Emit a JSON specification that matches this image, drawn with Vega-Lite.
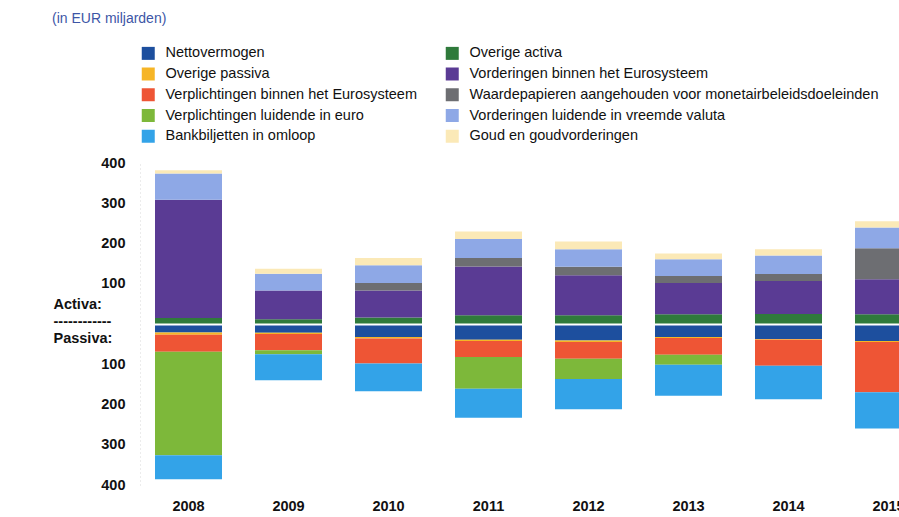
{
  "$schema": "https://vega.github.io/schema/vega-lite/v6.json",
  "width": 759,
  "height": 322,
  "autosize": {"type": "none"},
  "padding": {"left": 140, "top": 163, "right": 0, "bottom": 32},
  "background": "white",
  "title": {
    "text": "(in EUR miljarden)",
    "anchor": "start",
    "frame": "group",
    "color": "#3d56a6",
    "font": "Liberation Sans",
    "fontSize": 14,
    "fontWeight": "normal",
    "dx": -88,
    "offset": 20
  },
  "config": {"view": {"stroke": null}},
  "data": {
    "values": [
      {"jaar": "2008", "reeks": "Overige activa", "waarde": 15},
      {"jaar": "2008", "reeks": "Vorderingen binnen het Eurosysteem", "waarde": 294},
      {"jaar": "2008", "reeks": "Waardepapieren aangehouden voor monetairbeleidsdoeleinden", "waarde": 0},
      {"jaar": "2008", "reeks": "Vorderingen luidende in vreemde valuta", "waarde": 65},
      {"jaar": "2008", "reeks": "Goud en goudvorderingen", "waarde": 8},
      {"jaar": "2008", "reeks": "Nettovermogen", "waarde": -21},
      {"jaar": "2008", "reeks": "Overige passiva", "waarde": -6},
      {"jaar": "2008", "reeks": "Verplichtingen binnen het Eurosysteem", "waarde": -42},
      {"jaar": "2008", "reeks": "Verplichtingen luidende in euro", "waarde": -257},
      {"jaar": "2008", "reeks": "Bankbiljetten in omloop", "waarde": -60},

      {"jaar": "2009", "reeks": "Overige activa", "waarde": 12},
      {"jaar": "2009", "reeks": "Vorderingen binnen het Eurosysteem", "waarde": 71},
      {"jaar": "2009", "reeks": "Waardepapieren aangehouden voor monetairbeleidsdoeleinden", "waarde": 0},
      {"jaar": "2009", "reeks": "Vorderingen luidende in vreemde valuta", "waarde": 42},
      {"jaar": "2009", "reeks": "Goud en goudvorderingen", "waarde": 12},
      {"jaar": "2009", "reeks": "Nettovermogen", "waarde": -22},
      {"jaar": "2009", "reeks": "Overige passiva", "waarde": -3},
      {"jaar": "2009", "reeks": "Verplichtingen binnen het Eurosysteem", "waarde": -40},
      {"jaar": "2009", "reeks": "Verplichtingen luidende in euro", "waarde": -10},
      {"jaar": "2009", "reeks": "Bankbiljetten in omloop", "waarde": -65},

      {"jaar": "2010", "reeks": "Overige activa", "waarde": 16},
      {"jaar": "2010", "reeks": "Vorderingen binnen het Eurosysteem", "waarde": 67},
      {"jaar": "2010", "reeks": "Waardepapieren aangehouden voor monetairbeleidsdoeleinden", "waarde": 19},
      {"jaar": "2010", "reeks": "Vorderingen luidende in vreemde valuta", "waarde": 44},
      {"jaar": "2010", "reeks": "Goud en goudvorderingen", "waarde": 18},
      {"jaar": "2010", "reeks": "Nettovermogen", "waarde": -32},
      {"jaar": "2010", "reeks": "Overige passiva", "waarde": -4},
      {"jaar": "2010", "reeks": "Verplichtingen binnen het Eurosysteem", "waarde": -62},
      {"jaar": "2010", "reeks": "Verplichtingen luidende in euro", "waarde": 0},
      {"jaar": "2010", "reeks": "Bankbiljetten in omloop", "waarde": -69},

      {"jaar": "2011", "reeks": "Overige activa", "waarde": 22},
      {"jaar": "2011", "reeks": "Vorderingen binnen het Eurosysteem", "waarde": 121},
      {"jaar": "2011", "reeks": "Waardepapieren aangehouden voor monetairbeleidsdoeleinden", "waarde": 21},
      {"jaar": "2011", "reeks": "Vorderingen luidende in vreemde valuta", "waarde": 47},
      {"jaar": "2011", "reeks": "Goud en goudvorderingen", "waarde": 19},
      {"jaar": "2011", "reeks": "Nettovermogen", "waarde": -39},
      {"jaar": "2011", "reeks": "Overige passiva", "waarde": -3},
      {"jaar": "2011", "reeks": "Verplichtingen binnen het Eurosysteem", "waarde": -40},
      {"jaar": "2011", "reeks": "Verplichtingen luidende in euro", "waarde": -79},
      {"jaar": "2011", "reeks": "Bankbiljetten in omloop", "waarde": -72},

      {"jaar": "2012", "reeks": "Overige activa", "waarde": 22},
      {"jaar": "2012", "reeks": "Vorderingen binnen het Eurosysteem", "waarde": 99},
      {"jaar": "2012", "reeks": "Waardepapieren aangehouden voor monetairbeleidsdoeleinden", "waarde": 21},
      {"jaar": "2012", "reeks": "Vorderingen luidende in vreemde valuta", "waarde": 44},
      {"jaar": "2012", "reeks": "Goud en goudvorderingen", "waarde": 19},
      {"jaar": "2012", "reeks": "Nettovermogen", "waarde": -41},
      {"jaar": "2012", "reeks": "Overige passiva", "waarde": -3.5},
      {"jaar": "2012", "reeks": "Verplichtingen binnen het Eurosysteem", "waarde": -42},
      {"jaar": "2012", "reeks": "Verplichtingen luidende in euro", "waarde": -50},
      {"jaar": "2012", "reeks": "Bankbiljetten in omloop", "waarde": -75},

      {"jaar": "2013", "reeks": "Overige activa", "waarde": 24},
      {"jaar": "2013", "reeks": "Vorderingen binnen het Eurosysteem", "waarde": 78},
      {"jaar": "2013", "reeks": "Waardepapieren aangehouden voor monetairbeleidsdoeleinden", "waarde": 17},
      {"jaar": "2013", "reeks": "Vorderingen luidende in vreemde valuta", "waarde": 42},
      {"jaar": "2013", "reeks": "Goud en goudvorderingen", "waarde": 14},
      {"jaar": "2013", "reeks": "Nettovermogen", "waarde": -32},
      {"jaar": "2013", "reeks": "Overige passiva", "waarde": -2.5},
      {"jaar": "2013", "reeks": "Verplichtingen binnen het Eurosysteem", "waarde": -42},
      {"jaar": "2013", "reeks": "Verplichtingen luidende in euro", "waarde": -25},
      {"jaar": "2013", "reeks": "Bankbiljetten in omloop", "waarde": -77},

      {"jaar": "2014", "reeks": "Overige activa", "waarde": 25},
      {"jaar": "2014", "reeks": "Vorderingen binnen het Eurosysteem", "waarde": 82},
      {"jaar": "2014", "reeks": "Waardepapieren aangehouden voor monetairbeleidsdoeleinden", "waarde": 17},
      {"jaar": "2014", "reeks": "Vorderingen luidende in vreemde valuta", "waarde": 46},
      {"jaar": "2014", "reeks": "Goud en goudvorderingen", "waarde": 16},
      {"jaar": "2014", "reeks": "Nettovermogen", "waarde": -37},
      {"jaar": "2014", "reeks": "Overige passiva", "waarde": -2},
      {"jaar": "2014", "reeks": "Verplichtingen binnen het Eurosysteem", "waarde": -65},
      {"jaar": "2014", "reeks": "Verplichtingen luidende in euro", "waarde": 0},
      {"jaar": "2014", "reeks": "Bankbiljetten in omloop", "waarde": -83},

      {"jaar": "2015", "reeks": "Overige activa", "waarde": 24},
      {"jaar": "2015", "reeks": "Vorderingen binnen het Eurosysteem", "waarde": 87},
      {"jaar": "2015", "reeks": "Waardepapieren aangehouden voor monetairbeleidsdoeleinden", "waarde": 77},
      {"jaar": "2015", "reeks": "Vorderingen luidende in vreemde valuta", "waarde": 52},
      {"jaar": "2015", "reeks": "Goud en goudvorderingen", "waarde": 15},
      {"jaar": "2015", "reeks": "Nettovermogen", "waarde": -42},
      {"jaar": "2015", "reeks": "Overige passiva", "waarde": -2.5},
      {"jaar": "2015", "reeks": "Verplichtingen binnen het Eurosysteem", "waarde": -125},
      {"jaar": "2015", "reeks": "Verplichtingen luidende in euro", "waarde": 0},
      {"jaar": "2015", "reeks": "Bankbiljetten in omloop", "waarde": -90}
    ]
  },
  "transform": [
    {
      "calculate": "indexof(['Nettovermogen','Overige activa','Overige passiva','Vorderingen binnen het Eurosysteem','Verplichtingen binnen het Eurosysteem','Waardepapieren aangehouden voor monetairbeleidsdoeleinden','Verplichtingen luidende in euro','Vorderingen luidende in vreemde valuta','Bankbiljetten in omloop','Goud en goudvorderingen'], datum.reeks)",
      "as": "volgorde"
    }
  ],
  "mark": {"type": "bar"},
  "encoding": {
    "x": {
      "field": "jaar",
      "type": "ordinal",
      "scale": {"range": [0, 797], "paddingInner": 0.33, "paddingOuter": 0.15},
      "axis": {
        "title": null,
        "orient": "bottom",
        "labelAngle": 0,
        "labelFont": "Liberation Sans",
        "labelFontWeight": "bold",
        "labelFontSize": 14.5,
        "labelColor": "#111111",
        "ticks": false,
        "domain": false,
        "labelPadding": 14
      }
    },
    "y": {
      "field": "waarde",
      "type": "quantitative",
      "stack": "zero",
      "scale": {"domain": [-400, 400], "nice": false, "zero": true},
      "axis": {
        "title": null,
        "values": [400, 300, 200, 100, 48, 6, -35, -100, -200, -300, -400, 0],
        "labelExpr": "datum.value == 48 ? 'Activa:' : datum.value == 6 ? '------------' : datum.value == -35 ? 'Passiva:' : datum.value == 0 ? '' : format(abs(datum.value), 'd')",
        "labelFont": "Liberation Sans",
        "labelFontWeight": "bold",
        "labelFontSize": 14.5,
        "labelColor": "#111111",
        "labelOverlap": false,
        "labelFlush": false,
        "labelBound": false,
        "ticks": false,
        "grid": true,
        "gridColor": {"condition": {"test": "datum.value == 0", "value": "#ffffff"}, "value": "transparent"},
        "gridWidth": 2,
        "zindex": 1,
        "domain": true,
        "domainColor": "#d9d9d9",
        "domainDash": [1, 3],
        "labelPadding": {"condition": {"test": "datum.value == 48 || datum.value == 6 || datum.value == -35", "value": 87}, "value": 15},
        "labelAlign": {"condition": {"test": "datum.value == 48 || datum.value == 6 || datum.value == -35", "value": "left"}, "value": "right"}
      }
    },
    "order": {"field": "volgorde", "type": "quantitative", "sort": "ascending"},
    "color": {
      "field": "reeks",
      "type": "nominal",
      "scale": {
        "domain": ["Nettovermogen", "Overige passiva", "Verplichtingen binnen het Eurosysteem", "Verplichtingen luidende in euro", "Bankbiljetten in omloop", "Overige activa", "Vorderingen binnen het Eurosysteem", "Waardepapieren aangehouden voor monetairbeleidsdoeleinden", "Vorderingen luidende in vreemde valuta", "Goud en goudvorderingen"],
        "range": ["#1d4f9e", "#f6b526", "#ee5535", "#7db83a", "#33a3e8", "#2f7a3b", "#5a3b94", "#6d6e72", "#8ea8e6", "#fbe9b7"]
      },
      "legend": {
        "title": null,
        "orient": "none",
        "legendX": 1,
        "legendY": -117,
        "columns": 2,
        "columnPadding": 28,
        "rowPadding": 5.75,
        "padding": 0,
        "symbolType": "square",
        "symbolSize": 169,
        "symbolStrokeWidth": 0,
        "labelFont": "Liberation Sans",
        "labelFontSize": 14.5,
        "labelColor": "#111111",
        "labelOffset": 10,
        "labelLimit": 600
      }
    }
  }
}
